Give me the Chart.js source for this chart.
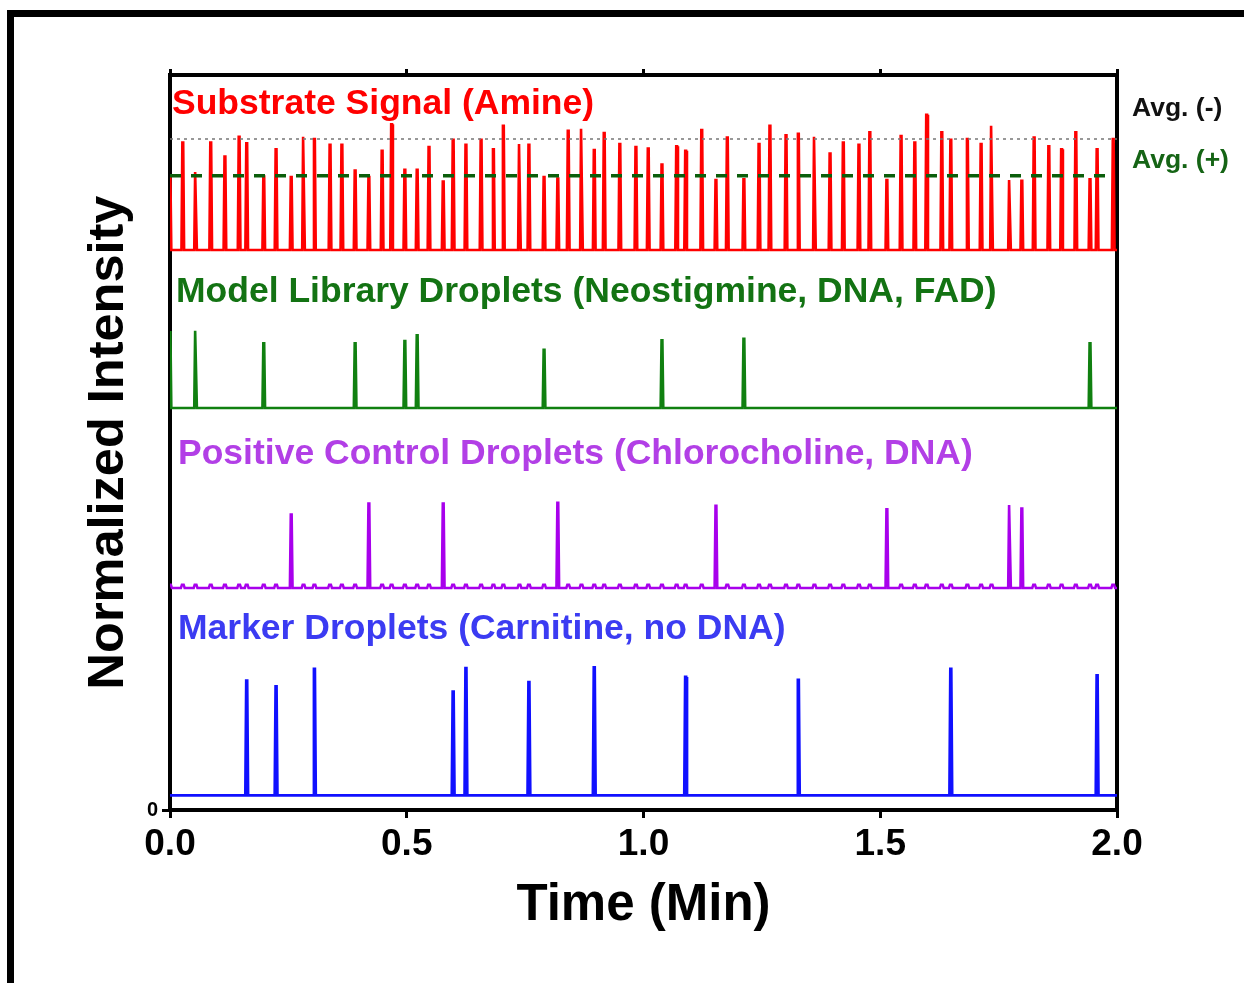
<!DOCTYPE html>
<html>
<head>
<meta charset="utf-8">
<script src="https://cdn.jsdelivr.net/npm/chart.js@4.4.0/dist/chart.umd.min.js"></script>
<style>
  html, body { margin: 0; padding: 0; background: #fff; }
  #wrap { position: relative; width: 1244px; height: 983px; overflow: hidden; }
  #frame { position: absolute; left: 7px; top: 10px; right: -20px; bottom: -20px; border-left: 7px solid #000; border-top: 7px solid #000; }
  #myChart { position: absolute; left: 0; top: 0; }
</style>
</head>
<body>
<div id="wrap">
  <div id="frame"></div>
  <canvas id="myChart" width="1244" height="983"></canvas>
</div>
<script>
  // droplet arrival times (min), every droplet shows up in the substrate trace
  const dropletTimes = [0, 0.027, 0.054, 0.086, 0.116, 0.146, 0.162, 0.198, 0.224, 0.256,
    0.282, 0.305, 0.338, 0.363, 0.391, 0.420, 0.448, 0.468, 0.496, 0.522,
    0.547, 0.577, 0.598, 0.625, 0.657, 0.683, 0.704, 0.738, 0.758, 0.790,
    0.819, 0.841, 0.869, 0.896, 0.917, 0.950, 0.984, 1.010, 1.039, 1.070,
    1.089, 1.123, 1.153, 1.177, 1.212, 1.244, 1.267, 1.301, 1.327, 1.361,
    1.394, 1.422, 1.455, 1.478, 1.514, 1.544, 1.573, 1.598, 1.630, 1.649,
    1.684, 1.713, 1.735, 1.773, 1.799, 1.825, 1.856, 1.883, 1.913, 1.943,
    1.958, 1.992];
  const substrateTops = [86.0, 90.8, 86.8, 90.8, 88.9, 91.6, 90.7, 86.2, 89.9, 86.1,
    91.6, 91.3, 90.5, 90.5, 87.0, 86.1, 89.7, 93.3, 87.1, 87.1,
    90.2, 85.5, 91.2, 90.5, 91.2, 89.9, 93.1, 90.6, 90.5, 86.1,
    85.9, 92.4, 92.7, 89.8, 92.1, 90.6, 90.2, 90.0, 87.8, 90.3,
    89.7, 92.5, 85.7, 91.5, 85.8, 90.6, 93.1, 91.8, 92.0, 91.6,
    89.3, 90.8, 90.5, 92.2, 85.7, 91.7, 90.8, 94.6, 92.2, 91.2,
    91.3, 90.6, 93.1, 85.7, 85.6, 91.5, 90.3, 89.9, 92.2, 85.8,
    89.9, 91.3];
  const substrateBase = 76.2;

  const libraryTimes = [0, 0.054, 0.198, 0.391, 0.496, 0.522, 0.790, 1.039, 1.212, 1.943];
  const libraryTops = [65.0, 65.2, 63.5, 63.5, 63.8, 64.6, 62.6, 63.9, 64.1, 63.5];
  const libraryBase = 54.7;

  const positiveTimes = [0.256, 0.420, 0.577, 0.819, 1.153, 1.514, 1.773, 1.799];
  const positiveTops = [40.2, 41.7, 41.7, 41.8, 41.4, 40.9, 41.5, 41.0];
  const positiveBase = 30.2;
  const positiveBump = 0.45;

  const markerTimes = [0.162, 0.224, 0.305, 0.598, 0.625, 0.758, 0.896, 1.089, 1.327, 1.649, 1.958];
  const markerTops = [17.6, 16.8, 19.2, 16.1, 19.3, 17.4, 19.4, 18.1, 17.7, 19.2, 18.3];
  const markerBase = 2.0;

  const avgNegative = 91.3;
  const avgPositive = 86.3;

  const xTicks = [0, 0.5, 1.0, 1.5, 2.0];

  const seriesLabels = ["Substrate Signal (Amine)", "Model Library Droplets (Neostigmine, DNA, FAD)",
    "Positive Control Droplets (Chlorocholine, DNA)", "Marker Droplets (Carnitine, no DNA)"];

  const FONT = '"Liberation Sans", Arial, sans-serif';

  // turn a list of peaks into a narrow spike trace
  function spikes(base, events) {
    events.sort((a, b) => a.t - b.t);
    let pts = [{ x: -0.01, y: base }];
    events.forEach(e => {
      pts.push({ x: e.t - e.hb, y: base });
      pts.push({ x: e.t - e.ht, y: e.top });
      pts.push({ x: e.t + e.ht, y: e.top });
      pts.push({ x: e.t + e.hb, y: base });
    });
    pts.push({ x: 2.01, y: base });
    return pts;
  }

  const peak = (t, top) => ({ t: t, top: top, hb: 0.0028, ht: 0.0009 });

  const redPts = spikes(substrateBase, dropletTimes.map((t, i) => peak(t, substrateTops[i])));
  const greenPts = spikes(libraryBase, libraryTimes.map((t, i) => peak(t, libraryTops[i])));
  let purpleEv = positiveTimes.map((t, i) => peak(t, positiveTops[i]));
  dropletTimes.forEach(t => {
    if (positiveTimes.indexOf(t) < 0) purpleEv.push({ t: t, top: positiveBase + positiveBump, hb: 0.004, ht: 0.0018 });
  });
  const purplePts = spikes(positiveBase, purpleEv);
  const bluePts = spikes(markerBase, markerTimes.map((t, i) => peak(t, markerTops[i])));

  const labelPlugin = {
    id: 'traceLabels',
    afterDraw(chart) {
      const ctx = chart.ctx;
      const a = chart.chartArea;
      ctx.save();
      ctx.textAlign = 'left';
      ctx.textBaseline = 'alphabetic';
      ctx.font = 'bold 35.5px ' + FONT;
      const spots = [[a.left + 2, 114, '#ff0000'], [a.left + 6, 302, '#137313'],
        [a.left + 8, 464, '#b23fe6'], [a.left + 8, 639, '#3b3bf2']];
      spots.forEach((s, i) => {
        ctx.fillStyle = s[2];
        ctx.fillText(seriesLabels[i], s[0], s[1]);
      });
      ctx.font = 'bold 26.5px ' + FONT;
      ctx.fillStyle = '#111';
      ctx.fillText('Avg. (-)', a.right + 15, 116);
      ctx.fillStyle = '#156415';
      ctx.fillText('Avg. (+)', a.right + 15, 168);
      ctx.restore();
    }
  };

  const tickGrid = (len) => ({ drawOnChartArea: false, drawTicks: true, tickLength: len, lineWidth: 3, color: '#000' });
  const axisBorder = { display: true, width: 4, color: '#000' };

  const ctx = document.getElementById('myChart');
  new Chart(ctx, {
    type: 'line',
    data: {
      datasets: [
        { data: [{ x: 0, y: avgNegative }, { x: 2, y: avgNegative }], borderColor: '#777', borderWidth: 1.6, borderDash: [3, 4] },
        { data: [{ x: 0, y: avgPositive }, { x: 1.985, y: avgPositive }], borderColor: '#0b5e0b', borderWidth: 3.5, borderDash: [11, 10] },
        { data: redPts, borderColor: '#ff0000', borderWidth: 2.6 },
        { data: greenPts, borderColor: '#108010', borderWidth: 2.6 },
        { data: purplePts, borderColor: '#a800ec', borderWidth: 2.6 },
        { data: bluePts, borderColor: '#1010ff', borderWidth: 2.8 }
      ]
    },
    options: {
      responsive: false,
      animation: false,
      devicePixelRatio: 1,
      elements: { point: { radius: 0 }, line: { tension: 0, fill: false } },
      layout: { padding: { left: 75, right: 27, top: 55, bottom: 45 } },
      plugins: { legend: { display: false }, tooltip: { enabled: false } },
      scales: {
        x: {
          type: 'linear', position: 'bottom', min: 0, max: 2,
          afterBuildTicks: s => { s.ticks = xTicks.map(v => ({ value: v })); },
          afterFit: s => { s.height = 128; },
          ticks: { callback: v => v.toFixed(1), color: '#000', font: { family: FONT, size: 37, weight: 'bold' }, padding: 5, maxRotation: 0, autoSkip: false },
          grid: tickGrid(8),
          border: axisBorder,
          title: { display: true, text: 'Time (Min)', color: '#000', font: { family: FONT, size: 51, weight: 'bold' }, padding: { top: 0, bottom: 1 } }
        },
        x2: {
          type: 'linear', position: 'top', min: 0, max: 2,
          afterBuildTicks: s => { s.ticks = xTicks.map(v => ({ value: v })); },
          afterFit: s => { s.height = 20; },
          ticks: { display: false },
          grid: tickGrid(6),
          border: axisBorder
        },
        y: {
          type: 'linear', position: 'left', min: 0, max: 100,
          afterBuildTicks: s => { s.ticks = [{ value: 0 }]; },
          afterFit: s => { s.width = 95; },
          ticks: { callback: v => String(v), color: '#000', font: { family: FONT, size: 20, weight: 'bold' }, padding: 4 },
          grid: tickGrid(8),
          border: axisBorder,
          title: { display: true, text: 'Normalized Intensity', color: '#000', font: { family: FONT, size: 50.5, weight: 'bold' }, padding: { top: 4, bottom: 0 } }
        },
        y2: {
          type: 'linear', position: 'right', min: 0, max: 100,
          afterFit: s => { s.width = 100; },
          ticks: { display: false },
          grid: { drawOnChartArea: false, drawTicks: false },
          border: axisBorder
        }
      }
    },
    plugins: [labelPlugin]
  });
</script>
</body>
</html>
